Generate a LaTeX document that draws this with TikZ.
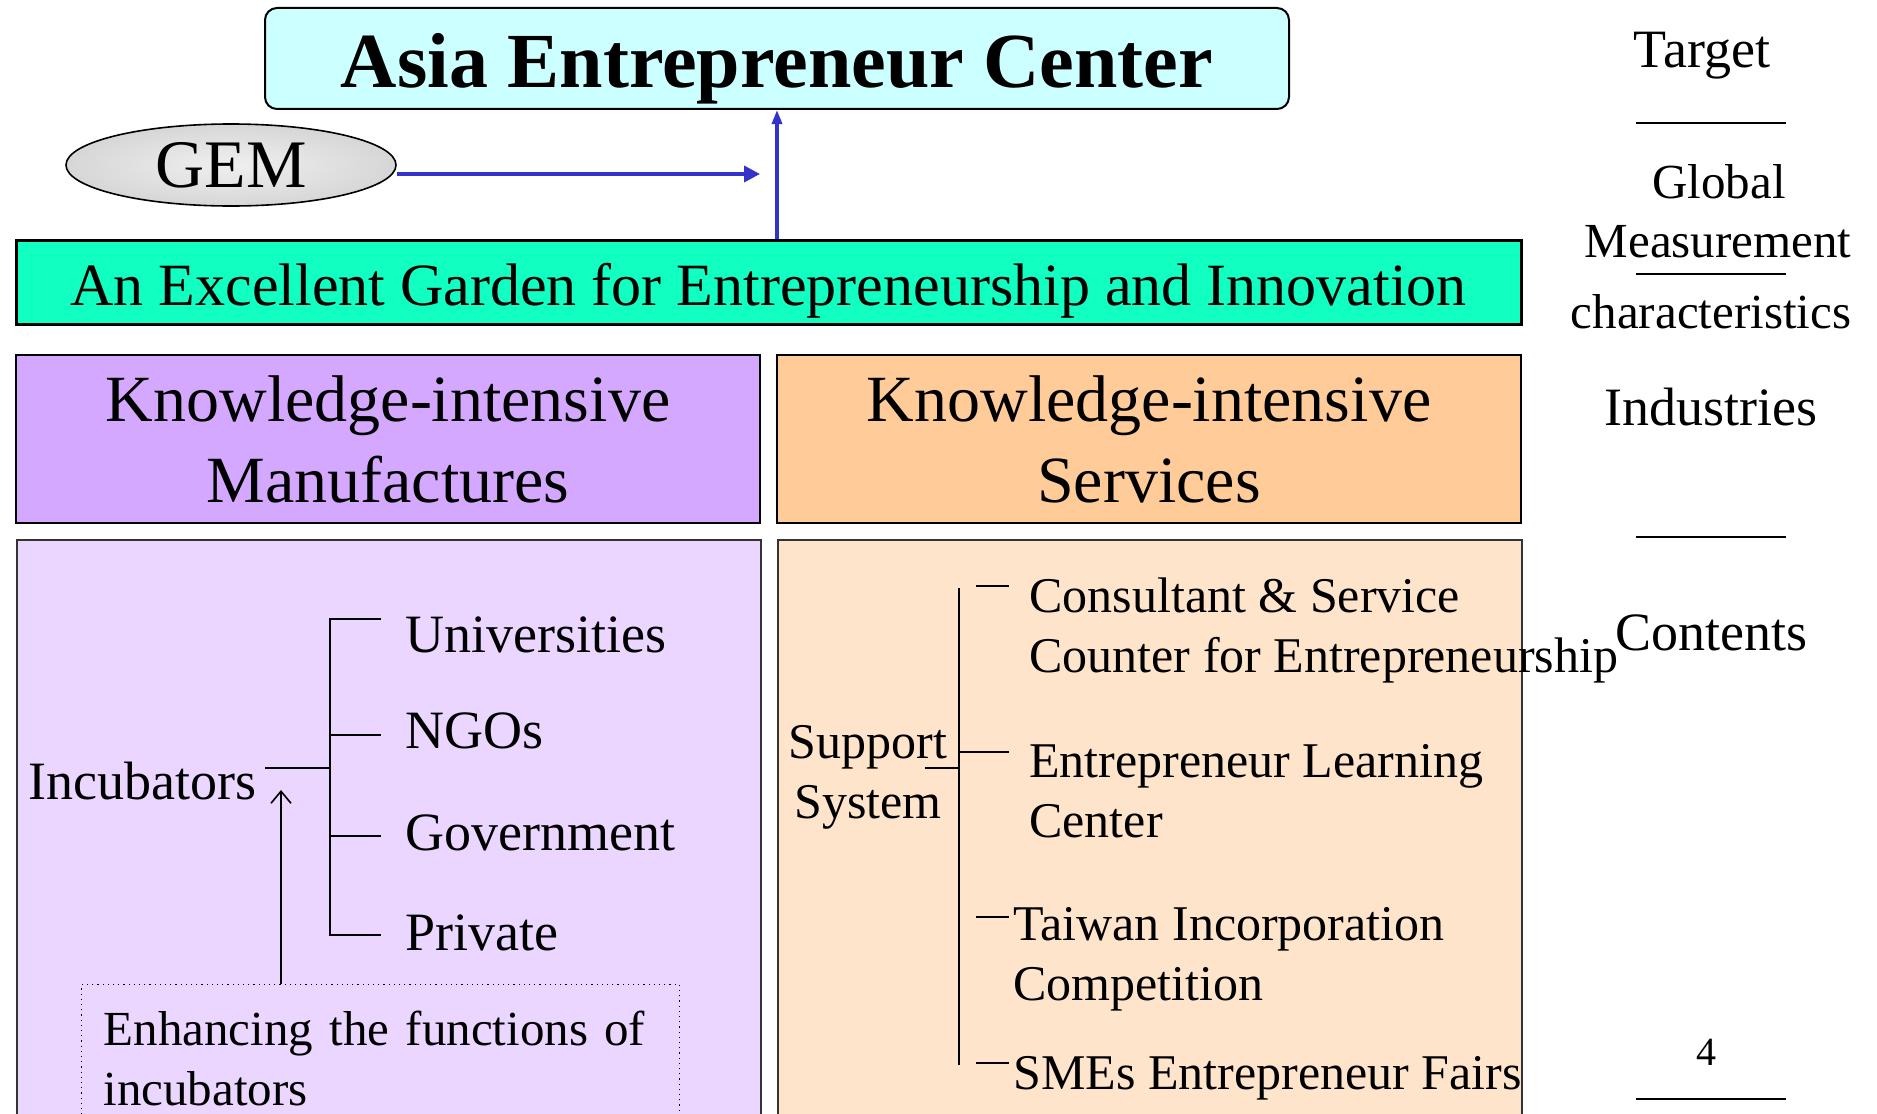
\documentclass[tikz,border=0pt]{standalone}
\usepackage{fontspec}
\setmainfont{Liberation Serif}
\usetikzlibrary{arrows.meta,shapes.geometric}

\definecolor{asiafill}{HTML}{CCFFFF}
\definecolor{gardenfill}{HTML}{11FFC1}
\definecolor{manuhead}{HTML}{D5A8FF}
\definecolor{servhead}{HTML}{FFCC99}
\definecolor{manubody}{HTML}{EAD6FF}
\definecolor{servbody}{HTML}{FFE4CC}
\definecolor{gemblue}{HTML}{3333CC}

\begin{document}
\begin{tikzpicture}[%
  x=0.5pt, y=-0.5pt,
  head/.style = {draw, line width=1pt, align=center, minimum width=372pt,
    minimum height=84pt, inner sep=0pt, font=\fontsize{33}{40.5}\selectfont},
  panel/.style = {draw=black!80, line width=0.75pt, minimum width=372pt,
    minimum height=300pt, inner sep=0pt, anchor=north west},
  leaf/.style = {inner sep=0pt, anchor=base west, font=\fontsize{27}{32}\selectfont},
  item/.style = {inner sep=0pt, anchor=base west, align=left,
    font=\fontsize{25}{30}\selectfont},
  side/.style = {inner sep=0pt, anchor=base, font=\fontsize{27}{32}\selectfont},
  sidesm/.style = {inner sep=0pt, anchor=base, font=\fontsize{24.5}{29}\selectfont},
  tree/.style = {line width=0.8pt},
  link/.style = {gemblue, line width=1.6pt},
  >={Triangle[length=8pt,width=8pt]},
]
  \useasboundingbox (0,0) rectangle (1877,1113);

  \node[draw, line width=1pt, rounded corners=6pt, fill=asiafill, anchor=north,
    minimum width=512pt, inner ysep=0pt, text height=40pt, text depth=10.5pt,
    font=\fontsize{39}{46}\selectfont\bfseries] (asia) at (777,7)
    {Asia Entrepreneur Center};
  \node[draw, ellipse, line width=0.8pt, inner color=gray!12, outer color=gray!32,
    minimum width=165pt, minimum height=41pt, inner sep=0pt,
    font=\fontsize{34}{40}\selectfont] (gem) at (231,165) {GEM};
  \node[draw, line width=1.5pt, fill=gardenfill, anchor=north,
    minimum width=752.5pt, inner ysep=0pt, text height=32.5pt, text depth=9.5pt,
    font=\fontsize{30}{36}\selectfont] (garden) at (768.5,239)
    {An Excellent Garden for Entrepreneurship and Innovation};

  \coordinate (gemto) at (760,174);
  \draw[link, line width=1.8pt, ->] (gemto -| gem.east) -- (gemto);
  \draw[link, -{Triangle[length=7pt,width=5pt]}] (asia.south |- garden.north)
    -- (asia.south);

  \node[head, fill=manuhead] (headman) at (388,439)
    {Knowledge-intensive\\Manufactures};
  \node[head, fill=servhead] (headserv) at (1149,439)
    {Knowledge-intensive\\Services};

  \node[panel, fill=manubody] (panman) at (16,539) {};
  \node[panel, fill=servbody] (panserv) at (777,539) {};

  \node[leaf, anchor=base east] (incub) at (257,799) {Incubators};
  \node[leaf] (univ) at (405,652) {Universities};
  \node[leaf] (ngo) at (405,748) {NGOs};
  \node[leaf] (gov) at (405,850) {Government};
  \node[leaf] (priv) at (405,950) {Private};

  \coordinate (fork) at (330,768);
  \draw[tree] (265,768) -- (fork);
  \draw[tree] (381,619) -- (330,619) -- (330,935) -- (381,935);
  \draw[tree] (330,735) -- (381,735);
  \draw[tree] (330,836) -- (381,836);

  \node[draw, dotted, line width=0.6pt, anchor=north west, text width=277pt,
    inner xsep=11pt, inner ysep=13pt, align=left,
    font=\fontsize{24.5}{30}\selectfont] (enh) at (81,984)
    {Enhancing the functions of\\incubators};
  \coordinate (lift) at (281,790);
  \draw[tree, -{Straight Barb[length=6pt,width=10pt]}] (enh.north -| lift) -- (lift);

  \node[item, align=center, anchor=base] (supsys) at (868,818) {Support\\System};
  \node[item] (cons) at (1029,672) {Consultant \& Service\\Counter for Entrepreneurship};
  \node[item] (learn) at (1029,837) {Entrepreneur Learning\\Center};
  \node[item] (taiwan) at (1013,1000) {Taiwan Incorporation\\Competition};
  \node[item] (smes) at (1013,1089) {SMEs Entrepreneur Fairs};

  \draw[tree] (959,588) -- (959,1065);
  \draw[tree] (925,768) -- (959,768);
  \draw[tree] (959,752) -- (1009,752);
  \foreach \y in {586,917,1063}
    \draw[tree] (976,\y) -- (1009,\y);

  \node[side] (target) at (1702,68) {Target};
  \node[sidesm] (global) at (1719,198) {Global};
  \node[sidesm] (measure) at (1718,257) {Measurement};
  \node[sidesm] (charac) at (1711,328) {characteristics};
  \node[side] (indus) at (1711,425) {Industries};
  \node[side] (contents) at (1711,650) {Contents};
  \node[side, font=\fontsize{20}{24}\selectfont] (pagenum) at (1706,1065) {4};
  \foreach \y in {123,274,537,1099}
    \draw[line width=1pt] (1636,\y) -- (1786,\y);

\end{tikzpicture}
\end{document}
